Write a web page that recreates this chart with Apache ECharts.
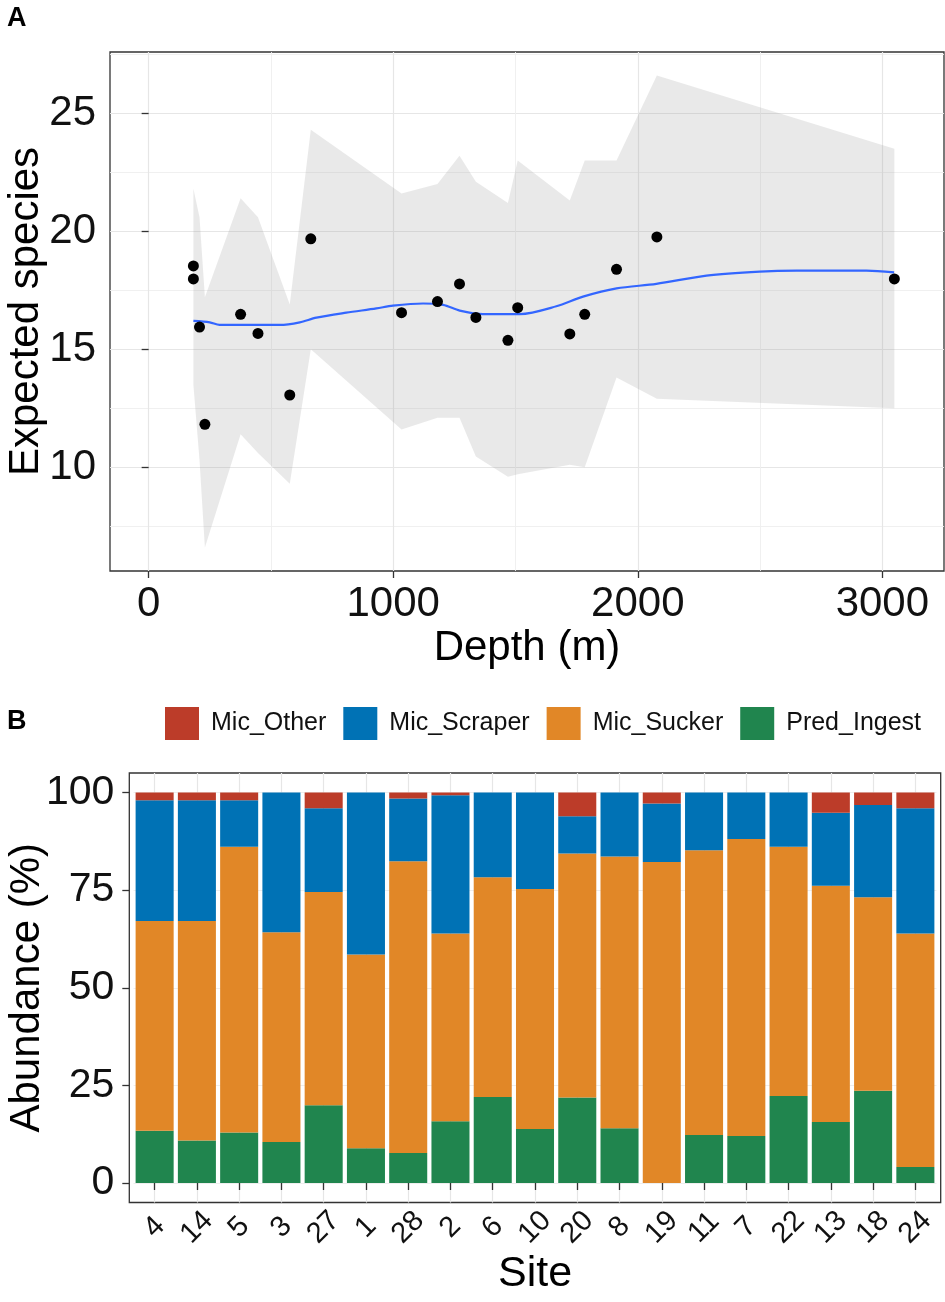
<!DOCTYPE html>
<html>
<head>
<meta charset="utf-8">
<script src="https://cdn.jsdelivr.net/npm/echarts@6/dist/echarts.min.js"></script>
<style>
  html, body { margin: 0; padding: 0; background: #fff; }
  #chart { width: 945px; height: 1302px; }
</style>
</head>
<body>
<div id="chart"></div>
<script>
// panel A: observed points
const depth = [183, 183, 208, 230, 376, 447, 577, 663, 1034, 1181, 1271, 1338, 1469, 1509, 1722, 1783, 1913, 2078, 3049]
const species = [18.53, 17.98, 15.94, 11.82, 16.48, 15.67, 13.06, 19.68, 16.55, 17.02, 17.77, 16.35, 15.38, 16.76, 15.65, 16.48, 18.39, 19.76, 17.98]

// panel A: confidence band (at unique depths)
const bandDepth = [183, 208, 230, 376, 447, 577, 663, 1034, 1181, 1271, 1338, 1469, 1509, 1722, 1783, 1913, 2078, 3049]
const bandUpper = [21.8, 20.6, 17.2, 21.4, 20.6, 16.9, 24.3, 21.6, 22.0, 23.2, 22.1, 21.2, 23.0, 21.3, 23.0, 23.0, 26.6, 23.5]
const bandLower = [13.5, 10.3, 6.6, 11.4, 10.6, 9.3, 15.0, 11.6, 12.1, 12.1, 10.45, 9.6, 9.7, 10.1, 10.0, 13.8, 12.9, 12.5]

// panel A: fitted curve
const fitDepth = [183, 250, 290, 536, 618, 686, 808, 931, 999, 1122, 1204, 1272, 1367, 1518, 1667, 1776, 1913, 2076, 2281, 2499, 2649, 2935, 3048]
const fitValue = [16.2, 16.14, 16.03, 16.03, 16.14, 16.34, 16.55, 16.73, 16.85, 16.94, 16.88, 16.64, 16.49, 16.49, 16.82, 17.23, 17.58, 17.77, 18.12, 18.29, 18.33, 18.33, 18.26]

// panel B: stacked abundance (%)
const sites = ['4', '14', '5', '3', '27', '1', '28', '2', '6', '10', '20', '8', '19', '11', '7', '22', '13', '18', '24']
const predIngest = [13.4, 10.9, 12.9, 10.5, 19.9, 8.9, 7.7, 15.8, 22.0, 13.8, 21.9, 14.0, 0, 12.3, 12.0, 22.3, 15.6, 23.6, 4.1]
const micSucker = [53.7, 56.2, 73.2, 53.7, 54.6, 49.6, 74.7, 48.1, 56.3, 61.5, 62.5, 69.6, 82.2, 72.9, 76.1, 63.8, 60.5, 49.6, 59.8]
const micScraper = [30.9, 30.9, 11.9, 35.8, 21.5, 41.5, 16.1, 35.4, 21.7, 24.7, 9.5, 16.4, 15.0, 14.8, 11.9, 13.9, 18.7, 23.6, 32.1]
const micOther = [2.0, 2.0, 2.0, 0, 4.0, 0, 1.5, 0.7, 0, 0, 6.1, 0, 2.8, 0, 0, 0, 5.2, 3.2, 4.0]

const xTicksA = [0, 1000, 2000, 3000]
const yTicksA = [10, 15, 20, 25]
const yTicksB = [0, 25, 50, 75, 100]

const FONT = 'Liberation Sans, Arial, sans-serif'
const gridLine = {show: true, lineStyle: {color: '#E6E6E6', width: 1.2}}
const minorLine = {show: true, lineStyle: {color: '#EEEEEE', width: 0.9}}
const tick = {show: true, length: 7, lineStyle: {color: '#333', width: 1.3}}

let myChart = echarts.init(document.getElementById('chart'))

const option = {
    animation: false,
    backgroundColor: '#fff',
    textStyle: {fontFamily: FONT},
    title: [
        {text: 'A', left: 2, top: 0, textStyle: {fontSize: 27, fontWeight: 'bold', color: '#000', fontFamily: FONT}},
        {text: 'B', left: 2, top: 703, textStyle: {fontSize: 27, fontWeight: 'bold', color: '#000', fontFamily: FONT}}
    ],
    legend: {
        data: ['Mic_Other', 'Mic_Scraper', 'Mic_Sucker', 'Pred_Ingest'],
        left: 160, top: 702, width: 790, orient: 'horizontal',
        icon: 'rect', itemWidth: 34, itemHeight: 33, itemGap: 17,
        textStyle: {fontSize: 25, color: '#111', padding: [0, 0, 0, 7], fontFamily: FONT}
    },
    grid: [
        {left: 110, right: 1, top: 52, height: 519, outerBoundsMode: 'none', containLabel: false,
            show: true, borderColor: '#333', borderWidth: 1.3, backgroundColor: 'transparent'},
        {left: 133.5, right: 8.5, top: 773, height: 429.5, outerBoundsMode: 'none', containLabel: false},
        {left: 129.3, right: 4.3, top: 773, height: 429.5, outerBoundsMode: 'none', containLabel: false,
            show: true, borderColor: '#333', borderWidth: 1.3, backgroundColor: 'transparent'}
    ],
    xAxis: [
        {
            type: 'value', gridIndex: 0, min: -158, max: 3252, splitNumber: 3,
            name: 'Depth (m)', nameLocation: 'middle', nameGap: 56, nameMoveOverlap: false,
            nameTextStyle: {fontSize: 42, color: '#000', fontFamily: FONT},
            axisLine: {show: false},
            axisTick: Object.assign({customValues: xTicksA}, tick),
            axisLabel: {customValues: xTicksA, formatter: v => String(v), fontSize: 42, color: '#111', margin: 12, fontFamily: FONT},
            splitLine: gridLine,
            minorTick: {show: false, splitNumber: 2},
            minorSplitLine: minorLine
        },
        {
            type: 'category', gridIndex: 1, data: sites, boundaryGap: true,
            name: 'Site', nameLocation: 'middle', nameGap: 50, nameMoveOverlap: false,
            nameTextStyle: {fontSize: 43, color: '#000', fontFamily: FONT},
            axisLine: {show: false},
            axisTick: Object.assign({alignWithLabel: true}, tick),
            axisLabel: {interval: 0, rotate: 45, align: 'center', verticalAlign: 'middle', margin: 25, fontSize: 29, color: '#111', fontFamily: FONT},
            splitLine: {show: true, alignWithLabel: true, lineStyle: {color: '#E6E6E6', width: 1.2}}
        }
    ],
    yAxis: [
        {
            type: 'value', gridIndex: 0, min: 5.6, max: 27.6, splitNumber: 4,
            name: 'Expected species', nameLocation: 'middle', nameGap: 63, nameMoveOverlap: false,
            nameTextStyle: {fontSize: 42, color: '#000', fontFamily: FONT},
            axisLine: {show: false},
            axisTick: Object.assign({customValues: yTicksA}, tick),
            axisLabel: {customValues: yTicksA, fontSize: 42, color: '#111', margin: 14, fontFamily: FONT},
            splitLine: gridLine,
            minorTick: {show: false, splitNumber: 2},
            minorSplitLine: minorLine
        },
        {
            type: 'value', gridIndex: 1, min: -5, max: 105, offset: 4.2,
            name: 'Abundance (%)', nameLocation: 'middle', nameGap: 81, nameMoveOverlap: false,
            nameTextStyle: {fontSize: 42, color: '#000', fontFamily: FONT},
            axisLine: {show: false},
            axisTick: Object.assign({customValues: yTicksB}, tick),
            axisLabel: {customValues: yTicksB, fontSize: 41, color: '#111', margin: 15, fontFamily: FONT},
            splitLine: {show: true, lineStyle: {color: '#EEEEEE', width: 1}}
        }
    ],
    series: [
        {
            name: 'band', type: 'custom', xAxisIndex: 0, yAxisIndex: 0, silent: true, z: 1,
            data: [[bandDepth[0], bandUpper[0]]],
            renderItem: function (params, api) {
                const pts = []
                for (let i = 0; i < bandDepth.length; i++) pts.push(api.coord([bandDepth[i], bandUpper[i]]))
                for (let i = bandDepth.length - 1; i >= 0; i--) pts.push(api.coord([bandDepth[i], bandLower[i]]))
                return {type: 'polygon', shape: {points: pts}, style: {fill: 'rgba(153,153,153,0.22)'}}
            }
        },
        {
            name: 'fit', type: 'line', xAxisIndex: 0, yAxisIndex: 0, z: 3,
            data: fitDepth.map((d, i) => [d, fitValue[i]]),
            showSymbol: false, smooth: 0.3,
            lineStyle: {color: '#3366FF', width: 2.2}
        },
        {
            name: 'points', type: 'scatter', xAxisIndex: 0, yAxisIndex: 0, z: 4,
            data: depth.map((d, i) => [d, species[i]]),
            symbolSize: 11, itemStyle: {color: '#000', opacity: 1}
        },
        {name: 'Pred_Ingest', type: 'bar', stack: 'b', xAxisIndex: 1, yAxisIndex: 1, data: predIngest, barWidth: '90%', itemStyle: {color: '#20854E'}},
        {name: 'Mic_Sucker', type: 'bar', stack: 'b', xAxisIndex: 1, yAxisIndex: 1, data: micSucker, barWidth: '90%', itemStyle: {color: '#E18727'}},
        {name: 'Mic_Scraper', type: 'bar', stack: 'b', xAxisIndex: 1, yAxisIndex: 1, data: micScraper, barWidth: '90%', itemStyle: {color: '#0072B5'}},
        {name: 'Mic_Other', type: 'bar', stack: 'b', xAxisIndex: 1, yAxisIndex: 1, data: micOther, barWidth: '90%', itemStyle: {color: '#BC3C29'}}
    ]
}

myChart.setOption(option)
</script>
</body>
</html>
